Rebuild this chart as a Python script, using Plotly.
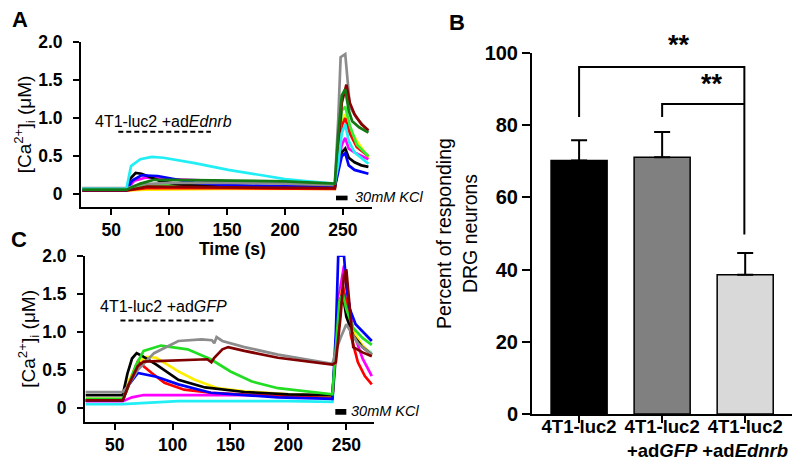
import plotly.graph_objects as go

FONT = "Liberation Sans, Arial, sans-serif"

# ---------------- Panel A: 4T1-luc2 + adEdnrb ----------------
A_cyan_t = [25, 63, 67, 75, 85, 95, 122, 151, 180, 200, 220, 243, 246, 249, 252, 255, 260, 266, 272]
A_cyan_v = [0.07, 0.07, 0.37, 0.46, 0.49, 0.48, 0.41, 0.32, 0.25, 0.2, 0.17, 0.14, 0.4, 0.8, 0.92, 0.7, 0.55, 0.47, 0.40]
A_black_t = [25, 63, 66, 71, 76, 93, 108, 136, 200, 243, 246, 249, 252, 255, 260, 266, 272]
A_black_v = [0.06, 0.06, 0.2, 0.28, 0.27, 0.17, 0.13, 0.11, 0.1, 0.1, 0.35, 0.55, 0.6, 0.48, 0.42, 0.38, 0.36]
A_blue_t = [25, 63, 68, 76, 90, 122, 150, 200, 243, 246, 249, 252, 255, 260, 266, 272]
A_blue_v = [0.05, 0.05, 0.18, 0.25, 0.24, 0.15, 0.12, 0.1, 0.09, 0.3, 0.5, 0.54, 0.38, 0.32, 0.29, 0.27]
A_magenta_t = [25, 63, 70, 80, 100, 150, 200, 243, 246, 249, 252, 255, 260, 266, 272]
A_magenta_v = [0.06, 0.06, 0.18, 0.22, 0.2, 0.17, 0.16, 0.12, 0.4, 0.65, 0.74, 0.6, 0.55, 0.5, 0.46]
A_gray_t = [25, 63, 75, 100, 150, 200, 243, 246, 248, 252, 254, 256, 262, 272]
A_gray_v = [0.08, 0.08, 0.13, 0.15, 0.15, 0.14, 0.12, 1.0, 1.8, 1.84, 1.5, 1.15, 1.0, 0.83]
A_dgreen_t = [25, 63, 75, 87, 100, 150, 200, 243, 246, 249, 252, 255, 258, 264, 272]
A_dgreen_v = [0.06, 0.06, 0.14, 0.19, 0.19, 0.18, 0.17, 0.14, 0.8, 1.3, 1.38, 1.1, 0.96, 0.88, 0.81]
A_dred_t = [25, 63, 81, 150, 200, 243, 246, 249, 253, 256, 260, 266, 272]
A_dred_v = [0.05, 0.05, 0.1, 0.09, 0.09, 0.08, 0.6, 1.2, 1.44, 1.2, 1.05, 0.92, 0.84]
A_red_t = [25, 63, 80, 150, 243, 246, 249, 252, 256, 262, 272]
A_red_v = [0.05, 0.05, 0.08, 0.08, 0.07, 0.5, 0.9, 1.0, 0.8, 0.62, 0.5]
A_yellow_t = [25, 63, 80, 150, 243, 246, 249, 252, 256, 262, 272]
A_yellow_v = [0.05, 0.05, 0.06, 0.07, 0.07, 0.5, 0.95, 1.05, 0.85, 0.7, 0.48]
A_lime_t = [25, 63, 80, 150, 243, 246, 249, 252, 256, 262, 272]
A_lime_v = [0.07, 0.07, 0.12, 0.11, 0.1, 0.6, 1.1, 1.15, 0.9, 0.65, 0.5]

# ---------------- Panel C: 4T1-luc2 + adGFP ----------------
C_cyan_t = [25, 57, 105, 200, 238, 241, 244, 248, 252, 258, 264, 272]
C_cyan_v = [0.05, 0.05, 0.09, 0.09, 0.08, 0.7, 1.3, 1.49, 1.2, 0.9, 0.8, 0.72]
C_magenta_t = [25, 57, 65, 75, 162, 238, 241, 244, 248, 251, 256, 264, 272]
C_magenta_v = [0.09, 0.09, 0.14, 0.17, 0.17, 0.14, 0.8, 1.5, 1.87, 1.5, 1.0, 0.65, 0.42]
C_yellow_t = [25, 57, 62, 70, 78, 86, 105, 119, 139, 162, 200, 238, 241, 244, 247, 250, 256, 264, 272]
C_yellow_v = [0.12, 0.12, 0.35, 0.6, 0.67, 0.66, 0.48, 0.37, 0.26, 0.22, 0.18, 0.16, 0.8, 1.4, 1.6, 1.3, 1.0, 0.82, 0.7]
C_red_t = [25, 57, 62, 70, 82, 93, 110, 133, 200, 238, 241, 244, 247, 250, 254, 260, 266, 272]
C_red_v = [0.1, 0.1, 0.3, 0.61, 0.46, 0.33, 0.24, 0.2, 0.15, 0.13, 0.7, 1.3, 1.6, 1.4, 0.95, 0.6, 0.42, 0.31]
C_black_t = [25, 57, 61, 65, 69, 74, 86, 105, 128, 162, 200, 238, 241, 244, 247, 250, 256, 264, 272]
C_black_v = [0.17, 0.17, 0.45, 0.65, 0.72, 0.68, 0.57, 0.37, 0.27, 0.21, 0.18, 0.17, 0.8, 1.4, 1.5, 1.2, 0.95, 0.8, 0.7]
C_blue_t = [25, 57, 62, 70, 86, 105, 133, 191, 238, 241, 243, 248, 250, 253, 258, 264, 272]
C_blue_v = [0.1, 0.1, 0.3, 0.46, 0.41, 0.31, 0.2, 0.14, 0.12, 1.0, 2.0, 2.0, 1.6, 1.3, 1.1, 1.0, 0.88]
C_green_t = [25, 57, 61, 68, 75, 90, 113, 133, 150, 168, 191, 238, 241, 244, 247, 250, 256, 264, 272]
C_green_v = [0.12, 0.12, 0.25, 0.55, 0.75, 0.82, 0.77, 0.64, 0.48, 0.35, 0.26, 0.18, 0.8, 1.4, 1.5, 1.3, 1.05, 0.92, 0.83]
C_gray_t = [25, 57, 62, 70, 84, 105, 125, 134, 136, 138, 143, 162, 191, 220, 238, 241, 245, 250, 254, 260, 272]
C_gray_v = [0.21, 0.21, 0.3, 0.5, 0.72, 0.88, 0.9, 0.89, 0.85, 0.93, 0.88, 0.8, 0.7, 0.63, 0.58, 0.75, 0.92, 1.1, 1.0, 0.85, 0.7]
C_dred_t = [25, 57, 62, 70, 75, 100, 130, 133.5, 136, 143, 148, 162, 191, 238, 241, 245, 248, 250, 253, 256, 264, 272]
C_dred_v = [0.1, 0.1, 0.3, 0.55, 0.61, 0.62, 0.64, 0.6, 0.66, 0.77, 0.8, 0.75, 0.66, 0.57, 0.6, 1.2, 1.75, 1.82, 1.3, 0.8, 0.73, 0.68]

# ---------------- Panel B: bar chart ----------------
B_categories = ["4T1-luc2", "4T1-luc2<br>+ad<i>GFP</i>", "4T1-luc2<br>+ad<i>Ednrb</i>"]
B_values = [70.2, 71.1, 38.6]
B_errors = [5.6, 7.0, 6.0]
B_colors = ["#000000", "#808080", "#D9D9D9"]

# ticks
trace_tickvals = [0, 0.5, 1.0, 1.5, 2.0]
trace_ticktext = ["0", "0.5", "1.0", "1.5", "2.0"]
time_ticks = [50, 100, 150, 200, 250]
B_ticks = [0, 20, 40, 60, 80, 100]

# annotations data
stim_A = [56, 136, 0.82]      # dashed stimulus bar (start, end, level)
stim_C = [55, 136.5, 1.15]
kcl_A = [244, 254, -0.018, -0.079]
kcl_C = [240.5, 250, -0.013, -0.088]
# significance brackets (left-end heights, top level, right low end) and star levels
br_top, br_mid, br_left_low, br_right_low = 96.1, 85.9, 82.3, 49.7
star_pos = [(1.2, 101.2), (1.6, 90.6)]

fig = go.Figure()

A_series = [
    (A_yellow_t, A_yellow_v, "#FFEE00"),
    (A_red_t, A_red_v, "#FF0000"),
    (A_lime_t, A_lime_v, "#33EE33"),
    (A_magenta_t, A_magenta_v, "#FF00FF"),
    (A_black_t, A_black_v, "#000000"),
    (A_blue_t, A_blue_v, "#0000FF"),
    (A_gray_t, A_gray_v, "#8C8C8C"),
    (A_dred_t, A_dred_v, "#8B0000"),
    (A_cyan_t, A_cyan_v, "#22EEF5"),
    (A_dgreen_t, A_dgreen_v, "#137A13"),
]
for t, v, c in A_series:
    fig.add_trace(go.Scatter(x=t, y=v, mode="lines", line=dict(color=c, width=2.7),
                             xaxis="x", yaxis="y", showlegend=False))

C_series = [
    (C_cyan_t, C_cyan_v, "#22EEF5"),
    (C_magenta_t, C_magenta_v, "#FF00FF"),
    (C_yellow_t, C_yellow_v, "#FFEE00"),
    (C_red_t, C_red_v, "#FF0000"),
    (C_black_t, C_black_v, "#000000"),
    (C_blue_t, C_blue_v, "#0000FF"),
    (C_green_t, C_green_v, "#22DD22"),
    (C_gray_t, C_gray_v, "#8C8C8C"),
    (C_dred_t, C_dred_v, "#800000"),
]
for t, v, c in C_series:
    fig.add_trace(go.Scatter(x=t, y=v, mode="lines", line=dict(color=c, width=2.7),
                             xaxis="x2", yaxis="y2", showlegend=False))

fig.add_trace(go.Bar(
    x=B_categories, y=B_values, marker=dict(color=B_colors, line=dict(color="black", width=1.5)),
    width=0.675,
    error_y=dict(type="data", array=B_errors, arrayminus=[0] * len(B_errors), symmetric=False,
                 color="black", thickness=2, width=8),
    xaxis="x3", yaxis="y3", showlegend=False))

W, H = 800, 465
def px(x): return x / W
def py(y): return 1 - y / H

tickfont = dict(family=FONT, size=17.5, color="black", weight="bold")
common = dict(showline=True, linecolor="black", linewidth=2, ticks="outside", ticklen=6,
              tickwidth=2, tickcolor="black", showgrid=False, zeroline=False, mirror=False,
              automargin=False)

B_ydom = [py(406), py(45)]

fig.update_layout(
    width=W, height=H, margin=dict(l=0, r=0, t=0, b=0, autoexpand=False),
    paper_bgcolor="white", plot_bgcolor="white",
    font=dict(family=FONT, color="black"),
    xaxis=dict(domain=[px(73), px(364)], range=[23.8, 275.1], anchor="y",
               tickvals=time_ticks, tickfont=tickfont, **common),
    yaxis=dict(domain=[py(199), py(34)], range=[-0.167, 2.0], anchor="x",
               tickvals=trace_tickvals, ticktext=trace_ticktext, tickfont=tickfont,
               ticklabelstandoff=7,
               title=dict(text="[Ca<sup>2+</sup>]<sub>i</sub> (μM)", font=dict(family=FONT, size=19), standoff=0),
               **common),
    xaxis2=dict(domain=[px(77), px(366)], range=[24.4, 273.9], anchor="y2",
                tickvals=time_ticks, tickfont=tickfont, **common),
    yaxis2=dict(domain=[py(414), py(247.7)], range=[-0.184, 2.0], anchor="x2",
                tickvals=trace_tickvals, ticktext=trace_ticktext, tickfont=tickfont,
                ticklabelstandoff=7,
                title=dict(text="[Ca<sup>2+</sup>]<sub>i</sub> (μM)", font=dict(family=FONT, size=19), standoff=0),
                **common),
    xaxis3=dict(domain=[px(524), px(792)], range=[-0.567, 2.66], anchor="y3", tickangle=0,
                ticklabelstandoff=-12,
                tickfont=dict(family=FONT, size=18.5, color="black", weight="bold"),
                **{**common, "ticklen": 7}),
    yaxis3=dict(domain=B_ydom, range=[0, 100], anchor="x3",
                tickvals=B_ticks, tickfont=dict(family=FONT, size=20, color="black", weight="bold"),
                title=dict(text="Percent of responding<br>DRG neurons", font=dict(family=FONT, size=19.5), standoff=2),
                **{**common, "ticklen": 8}),
    bargap=0.3,
)

shapes = []
anns = []
# x-axis title of panel A (time)
anns.append(dict(x=px(224), y=py(241), xref="paper", yref="paper", text="<b>Time (s)</b>",
                 showarrow=False, font=dict(family=FONT, size=17.5), xanchor="center", yanchor="middle",
                 borderpad=0))
# stimulus dashed lines
for stim, xr, yr in [(stim_A, "x", "y"), (stim_C, "x2", "y2")]:
    shapes.append(dict(type="line", xref=xr, yref=yr, x0=stim[0], x1=stim[1], y0=stim[2], y1=stim[2],
                       line=dict(color="black", width=2, dash="5px,3px")))
for k, xr, yr in [(kcl_A, "x", "y"), (kcl_C, "x2", "y2")]:
    shapes.append(dict(type="rect", xref=xr, yref=yr, x0=k[0], x1=k[1], y0=k[2], y1=k[3],
                       fillcolor="black", line=dict(width=0)))

anns.append(dict(x=34.2, y=0.96, xref="x", yref="y", xanchor="left", yanchor="middle",
                 text="4T1-luc2 +ad<i>Ednrb</i>", showarrow=False, font=dict(family=FONT, size=16)))
anns.append(dict(x=35.6, y=1.33, xref="x2", yref="y2", xanchor="left", yanchor="middle",
                 text="4T1-luc2 +ad<i>GFP</i>", showarrow=False, font=dict(family=FONT, size=16)))
anns.append(dict(x=258.7, y=-0.04, xref="x", yref="y", xanchor="left", yanchor="middle",
                 text="<i>30mM KCl</i>", showarrow=False, font=dict(family=FONT, size=14.5)))
anns.append(dict(x=252, y=-0.04, xref="x2", yref="y2", xanchor="left", yanchor="middle",
                 text="<i>30mM KCl</i>", showarrow=False, font=dict(family=FONT, size=14.5)))

# significance brackets in panel B
shapes.append(dict(type="path", xref="x3", yref="y3",
                   path=f"M 0,{br_left_low} L 0,{br_top} L 1.99,{br_top} L 1.99,{br_right_low}",
                   line=dict(color="black", width=2)))
shapes.append(dict(type="path", xref="x3", yref="y3",
                   path=f"M 1,{br_left_low} L 1,{br_mid} L 1.99,{br_mid}",
                   line=dict(color="black", width=2)))
for sx, sy in star_pos:
    yp = B_ydom[0] + sy / 100 * (B_ydom[1] - B_ydom[0])
    anns.append(dict(x=sx, y=yp + 0.007, xref="x3", yref="paper", text="<b>**</b>", showarrow=False,
                     font=dict(family=FONT, size=27), yanchor="middle"))

# panel letters
for letter, lx, ly in [("A", 12, 12), ("B", 449, 15), ("C", 11, 231)]:
    anns.append(dict(x=px(lx), y=py(ly), xref="paper", yref="paper", text=f"<b>{letter}</b>",
                     showarrow=False, font=dict(family=FONT, size=22), xanchor="center", yanchor="middle"))

fig.update_layout(shapes=shapes, annotations=anns)
fig.write_html("out.html")
